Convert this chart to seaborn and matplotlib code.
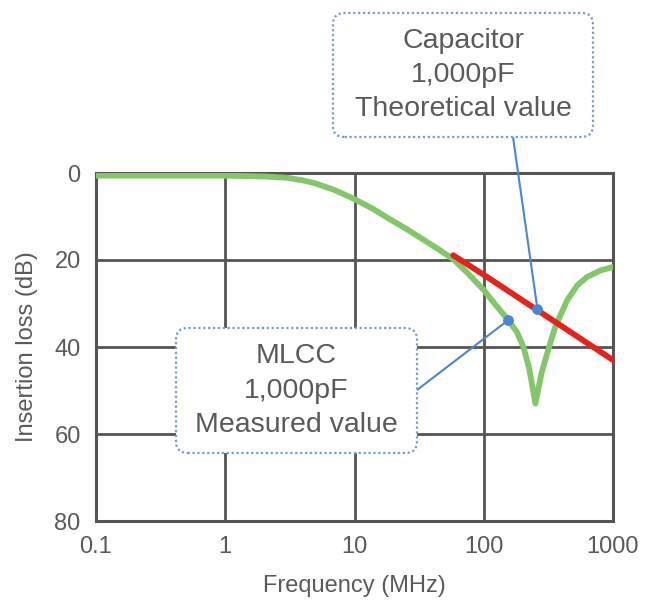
import numpy as np
import pandas as pd
import matplotlib
matplotlib.use("Agg")
import matplotlib.pyplot as plt
from matplotlib.patches import FancyBboxPatch
import seaborn as sns

# ── Data ────────────────────────────────────────────────────────────────────
meas_freq = [0.1, 1, 2, 3, 4, 5, 7, 10, 14, 18, 25, 32, 45, 58, 75, 100, 125,
             155, 180, 203, 225, 251, 280, 310, 357, 443, 530, 630, 800, 1000]
meas_loss = [0.6, 0.6, 0.8, 1.1, 1.7, 2.4, 3.9, 6.0, 8.3, 10.3, 12.8, 14.8, 17.6,
             19.8, 23.0, 26.9, 30.5, 33.8, 36.5, 40.0, 45.0, 53.0, 46.0, 41.4,
             35.4, 29.2, 25.8, 23.9, 22.4, 21.6]

theo_freq = [58, 100, 1000]
theo_loss = [18.9, 23.4, 43.0]

# annotation anchor points (freq MHz, dB)
theo_point = (260, 31.2)
meas_point = (155, 33.8)

x_ticks = [0.1, 1, 10, 100, 1000]
x_labels = ["0.1", "1", "10", "100", "1000"]
y_ticks = [0, 20, 40, 60, 80]

# ── Style ───────────────────────────────────────────────────────────────────
sns.set_style("white")
plt.rcParams["font.family"] = ["Liberation Sans", "DejaVu Sans"]

TEXT = "#5a5a5a"
GRID = "#555555"
GREEN = "#84c76a"
RED = "#e3241c"
BLUE = "#4a86d2"
BOX_EDGE = "#6f9ee0"

W, H = 645, 602
fig = plt.figure(figsize=(W / 100, H / 100), dpi=100)
ax = fig.add_axes([96 / W, 1 - 521 / H, (613 - 96) / W, (521 - 173) / H])

ax.set_xscale("log")
sns.lineplot(x=meas_freq, y=meas_loss, ax=ax, color=GREEN, linewidth=4.2, zorder=3)
sns.lineplot(x=theo_freq, y=theo_loss, ax=ax, color=RED, linewidth=4.2, zorder=4)

ax.set_xlim(0.1, 1000)
ax.set_ylim(80, 0)
ax.set_xticks(x_ticks)
ax.set_xticklabels(x_labels)
ax.set_yticks(y_ticks)
ax.minorticks_off()
ax.grid(True, color=GRID, linewidth=2.0)
ax.set_axisbelow(True)
for s in ax.spines.values():
    s.set_visible(True)
    s.set_color(GRID)
    s.set_linewidth(2.2)
ax.tick_params(length=0, labelsize=17, labelcolor=TEXT, pad=11)
ax.set_xlabel("Frequency (MHz)", fontsize=17, color=TEXT, labelpad=12)
ax.set_ylabel("Insertion loss (dB)", fontsize=17, color=TEXT, labelpad=12)


# ── Callouts (boxes placed in figure pixels, top-left origin) ───────────────
def fpx(x, y):
    return x / W, 1 - y / H


def callout(text, x0, y0, x1, y1, edge_pt, target):
    bx, by = fpx(x0, y1)
    patch = FancyBboxPatch((bx, by), (x1 - x0) / W, (y1 - y0) / H,
                           boxstyle="round,pad=0,rounding_size=0.018",
                           transform=fig.transFigure, fc="white", ec=BOX_EDGE,
                           lw=1.6, ls=(0, (1, 1.2)), zorder=6)
    fig.add_artist(patch)
    cx, cy = fpx((x0 + x1) / 2, (y0 + y1) / 2)
    fig.text(cx, cy, text, ha="center", va="center", fontsize=20.5, color=TEXT,
             linespacing=1.42, zorder=7)
    ax.annotate("", xy=target, xycoords="data", xytext=fpx(*edge_pt),
                textcoords="figure fraction",
                arrowprops=dict(arrowstyle="-", color=BLUE, lw=1.5,
                                shrinkA=0, shrinkB=0), zorder=5)


callout("Capacitor\n1,000pF\nTheoretical value", 333, 13, 593, 137, (513, 137), theo_point)
callout("MLCC\n1,000pF\nMeasured value", 176, 328, 417, 453, (417, 390), meas_point)

ax.scatter([theo_point[0], meas_point[0]], [theo_point[1], meas_point[1]],
           s=45, color=BLUE, zorder=7)

fig.savefig("out.png", dpi=100)
